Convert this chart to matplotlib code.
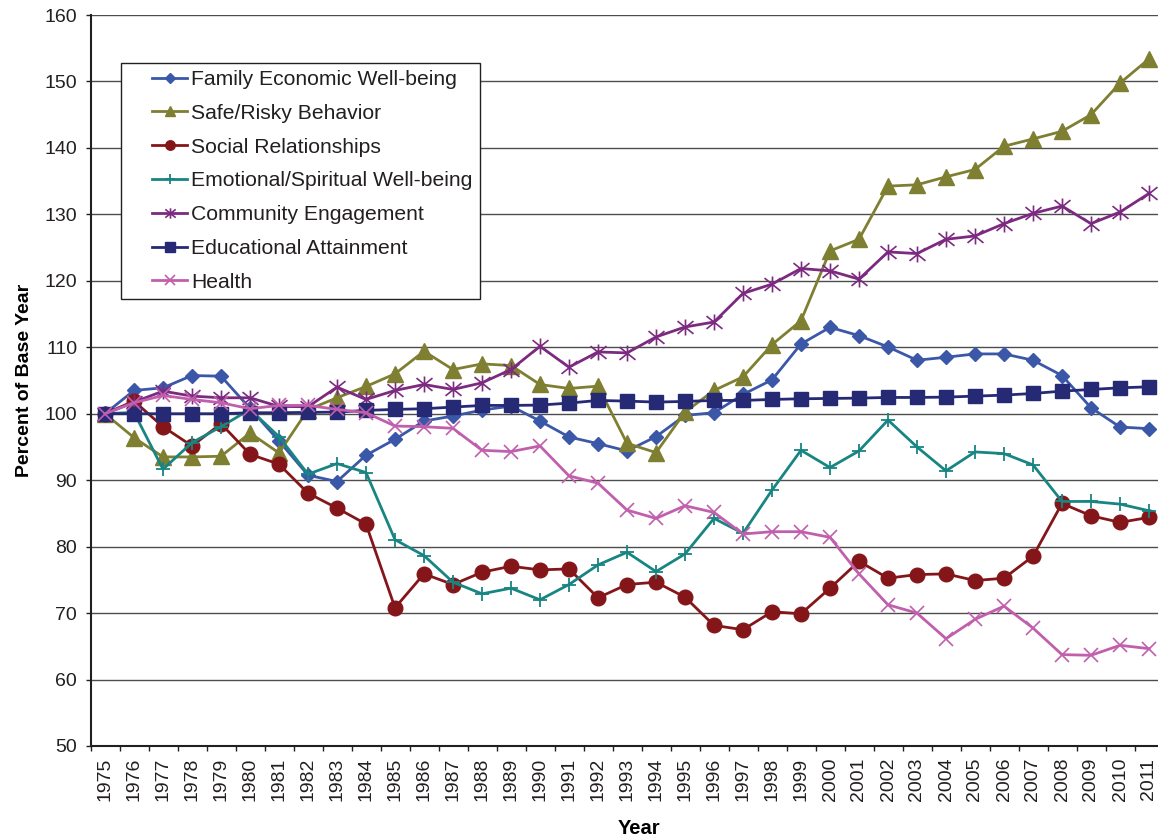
import matplotlib

matplotlib.use("Agg")

import matplotlib.pyplot as plt
import numpy as np
from matplotlib.legend_handler import HandlerLine2D
from matplotlib.path import Path

# Figure geometry (pixels at dpi 100, matches the 1158x839 reference).
FIG_W, FIG_H = 1158, 839
AX_LEFT, AX_RIGHT, AX_TOP, AX_BOTTOM = 90.5, 1163.5, 15.0, 746.0
TEXT_COLOR = "#231f20"
GRID_COLOR = "#4d4d4d"

YEARS = list(range(1975, 2012))

FAMILY_ECONOMIC = [
    100.0, 103.5, 103.9, 105.75, 105.65, 100.8, 95.9, 90.75, 89.8, 93.75,
    96.15, 98.9, 99.65, 100.55, 101.15, 98.9, 96.5, 95.5, 94.4, 96.55,
    99.75, 100.15, 102.9, 105.1, 110.5, 113.0, 111.75, 110.05, 108.05, 108.5,
    109.0, 109.0, 108.05, 105.75, 100.9, 98.0, 97.75,
]
SAFE_RISKY = [
    100.0, 96.4, 93.5, 93.5, 93.6, 97.1, 94.1, 100.6, 102.4, 104.1,
    106.0, 109.4, 106.65, 107.5, 107.25, 104.4, 103.8, 104.15, 95.55, 94.15,
    100.25, 103.5, 105.55, 110.4, 114.0, 124.5, 126.25, 134.25, 134.45, 135.65,
    136.75, 140.25, 141.35, 142.5, 145.0, 149.75, 153.4,
]
SOCIAL = [
    100.0, 101.9, 98.05, 95.15, 98.5, 93.9, 92.4, 88.05, 85.8, 83.4,
    70.8, 75.9, 74.3, 76.15, 77.05, 76.5, 76.65, 72.3, 74.3, 74.65,
    72.4, 68.15, 67.5, 70.2, 69.9, 73.75, 77.8, 75.25, 75.8, 75.9,
    74.9, 75.25, 78.55, 86.5, 84.65, 83.65, 84.4,
]
EMOTIONAL = [
    100.0, 100.2, 91.65, 95.65, 98.05, 100.65, 96.55, 90.9, 92.5, 91.15,
    81.05, 78.65, 74.65, 72.9, 73.75, 72.0, 74.3, 77.25, 79.15, 76.25,
    78.9, 84.25, 82.0, 88.5, 94.5, 91.9, 94.4, 99.05, 95.0, 91.4,
    94.25, 94.0, 92.3, 86.8, 86.8, 86.4, 85.4,
]
COMMUNITY = [
    100.0, 101.75, 103.4, 102.65, 102.4, 102.4, 101.1, 101.05, 104.0, 102.15,
    103.5, 104.4, 103.65, 104.65, 106.65, 110.15, 107.0, 109.3, 109.15, 111.55,
    113.05, 113.8, 118.1, 119.5, 121.85, 121.5, 120.25, 124.35, 124.1, 126.25,
    126.75, 128.6, 130.15, 131.25, 128.6, 130.35, 133.15,
]
EDUCATION = [
    100.0, 100.0, 100.0, 100.0, 100.0, 100.15, 100.15, 100.2, 100.25, 100.5,
    100.65, 100.75, 101.0, 101.25, 101.25, 101.3, 101.6, 102.0, 101.9, 101.75,
    101.85, 102.0, 102.0, 102.15, 102.25, 102.3, 102.35, 102.45, 102.45, 102.5,
    102.65, 102.8, 103.05, 103.4, 103.65, 103.9, 104.05,
]
HEALTH = [
    100.0, 101.65, 102.75, 102.15, 101.65, 100.75, 101.25, 101.25, 100.65, 100.15,
    98.15, 98.05, 97.8, 94.5, 94.3, 95.15, 90.65, 89.55, 85.5, 84.25,
    86.15, 85.15, 81.9, 82.25, 82.25, 81.4, 75.9, 71.25, 70.0, 66.15,
    69.05, 71.05, 67.75, 63.75, 63.65, 65.15, 64.65,
]

# Excel-style asterisk: an x with a vertical stroke through it.
ASTERISK = Path(
    [(-1, -0.8), (1, 0.8), (-1, 0.8), (1, -0.8), (0, -1), (0, 1)],
    [Path.MOVETO, Path.LINETO, Path.MOVETO, Path.LINETO, Path.MOVETO, Path.LINETO],
)

SERIES = [
    ("Family Economic Well-being", FAMILY_ECONOMIC, "#3b58a8", dict(marker="D", markersize=7.2)),
    ("Safe/Risky Behavior", SAFE_RISKY, "#7f7f32", dict(marker="^", markersize=11)),
    ("Social Relationships", SOCIAL, "#84161a", dict(marker="o", markersize=10.5)),
    ("Emotional/Spiritual Well-being", EMOTIONAL, "#188582", dict(marker="+", markersize=10, markeredgewidth=1.3)),
    ("Community Engagement", COMMUNITY, "#7c2a80", dict(marker=ASTERISK, markersize=11.5, markeredgewidth=1.2)),
    ("Educational Attainment", EDUCATION, "#262a75", dict(marker="s", markersize=10.5)),
    ("Health", HEALTH, "#c15fac", dict(marker="x", markersize=10.5, markeredgewidth=1.2)),
]


class RightKeyHandler(HandlerLine2D):
    """Legend key drawn as a short line at the right end of a wider handle box."""

    def __init__(self, key_length, **kwargs):
        super().__init__(**kwargs)
        self.key_length = key_length

    def create_artists(self, legend, orig_handle, xdescent, ydescent, width, height, fontsize, trans):
        shift = width - self.key_length * fontsize
        return super().create_artists(
            legend, orig_handle, xdescent - shift, ydescent, width - shift, height, fontsize, trans
        )


def main() -> None:
    plt.rcParams["font.family"] = ["Liberation Sans", "DejaVu Sans"]
    plt.rcParams["text.color"] = TEXT_COLOR

    fig = plt.figure(figsize=(FIG_W / 100, FIG_H / 100), dpi=100)
    ax = fig.add_axes([
        AX_LEFT / FIG_W,
        (FIG_H - AX_BOTTOM) / FIG_H,
        (AX_RIGHT - AX_LEFT) / FIG_W,
        (AX_BOTTOM - AX_TOP) / FIG_H,
    ])

    x = np.arange(len(YEARS))
    for label, values, color, style in SERIES:
        ax.plot(
            x, values, color=color, linewidth=2.0, label=label,
            markerfacecolor=color, markeredgecolor=color, clip_on=False, **style,
        )

    ax.set_xlim(-0.5, len(YEARS) - 0.5)
    ax.set_ylim(50, 160)
    ax.set_yticks(np.arange(50, 161, 10))
    ax.yaxis.grid(True, color=GRID_COLOR, linewidth=1.0)
    ax.set_axisbelow(True)

    # category axis: labels at centres, tick marks on the boundaries
    ax.set_xticks(x, labels=[str(y) for y in YEARS], rotation=90)
    ax.set_xticks(np.arange(-0.5, len(YEARS)), minor=True)
    ax.tick_params(axis="x", which="major", length=0, pad=8.5, labelsize=14, labelcolor=TEXT_COLOR)
    ax.tick_params(axis="x", which="minor", length=3.6, width=1.0, color=TEXT_COLOR)
    ax.tick_params(axis="y", length=3.6, width=1.0, pad=6, labelsize=14, color=TEXT_COLOR, labelcolor=TEXT_COLOR)

    for side in ("top", "right"):
        ax.spines[side].set_visible(False)
    for side in ("left", "bottom"):
        ax.spines[side].set_color(TEXT_COLOR)
        ax.spines[side].set_linewidth(1.5)

    ax.set_ylabel("Percent of Base Year", fontsize=14, fontweight="bold", labelpad=8)
    ax.set_xlabel("Year", fontsize=14.5, fontweight="bold", labelpad=12.5)
    ax.xaxis.label.set_x(0.511)

    legend = ax.legend(
        loc="upper left",
        bbox_to_anchor=((120.7 - AX_LEFT) / (AX_RIGHT - AX_LEFT), (AX_BOTTOM - 62.7) / (AX_BOTTOM - AX_TOP)),
        borderaxespad=0,
        fontsize=15.2,
        frameon=True,
        fancybox=False,
        framealpha=1,
        edgecolor=TEXT_COLOR,
        borderpad=0.35,
        labelspacing=0.7,
        handlelength=2.8,
        handletextpad=0.17,
        markerscale=0.65,
        handler_map={plt.Line2D: RightKeyHandler(key_length=1.66)},
    )
    legend.get_frame().set_linewidth(1.0)

    fig.savefig("out.png", dpi=100)


if __name__ == "__main__":
    main()
